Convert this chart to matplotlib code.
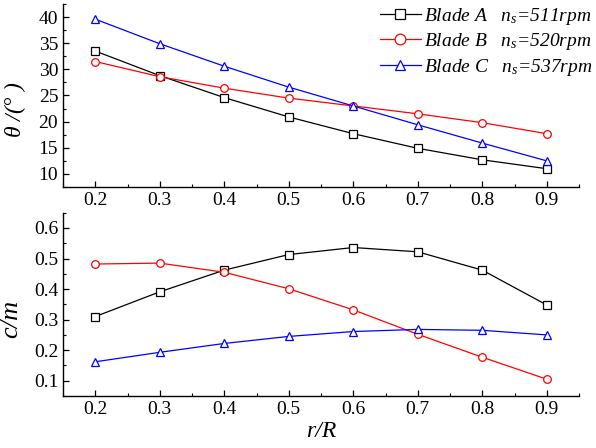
import numpy as np
import matplotlib
matplotlib.use("Agg")
import matplotlib.pyplot as plt
from matplotlib.ticker import MultipleLocator

plt.rcParams['font.family'] = ['Liberation Serif', 'DejaVu Serif']
plt.rcParams['mathtext.fontset'] = 'custom'
plt.rcParams['mathtext.it'] = 'Liberation Serif:italic'
plt.rcParams['mathtext.rm'] = 'Liberation Serif'

# radial position r/R
r_R = [0.2, 0.3, 0.4, 0.5, 0.6, 0.7, 0.8, 0.9]

# blade angle theta (deg)
theta_a = [33.5, 28.8, 24.6, 20.9, 17.7, 14.9, 12.7, 11.0]
theta_b = [31.5, 28.6, 26.4, 24.5, 23.0, 21.5, 19.8, 17.7]
theta_c = [39.6, 34.9, 30.6, 26.6, 23.0, 19.4, 15.9, 12.5]

# solidity c/m
cm_a = [0.310, 0.391, 0.462, 0.513, 0.536, 0.522, 0.462, 0.348]
cm_b = [0.482, 0.485, 0.455, 0.401, 0.332, 0.252, 0.177, 0.105]
cm_c = [0.162, 0.193, 0.222, 0.245, 0.261, 0.268, 0.265, 0.250]

labels = [r"Blade A   $n_s$=511rpm",
          r"Blade B   $n_s$=520rpm",
          r"Blade C   $n_s$=537rpm"]
colors = ['black', 'red', 'blue']
markers = ['s', 'o', '^']

fig = plt.figure(figsize=(5.96, 4.48), dpi=100)
ax1 = fig.add_axes([63/596, 1 - 187/448, 516/596, 183/448])
ax2 = fig.add_axes([63/596, 1 - 396/448, 516/596, 183.3/448])

for y, c, m, lab in zip([theta_a, theta_b, theta_c], colors, markers, labels):
    ax1.plot(r_R, y, color=c, marker=m, markersize=5.5, markerfacecolor='white',
             markeredgecolor=c, markeredgewidth=0.9, linewidth=0.9, label=lab)
for y, c, m in zip([cm_a, cm_b, cm_c], colors, markers):
    ax2.plot(r_R, y, color=c, marker=m, markersize=5.5, markerfacecolor='white',
             markeredgecolor=c, markeredgewidth=0.9, linewidth=0.9)

ax1.set_xlim(0.15, 0.95)
ax1.set_ylim(7.5, 42.5)
ax2.set_xlim(0.15, 0.95)
ax2.set_ylim(0.05, 0.65)

ax1.yaxis.set_major_locator(MultipleLocator(5))
ax1.yaxis.set_minor_locator(MultipleLocator(2.5))
ax2.yaxis.set_major_locator(MultipleLocator(0.1))
ax2.yaxis.set_minor_locator(MultipleLocator(0.05))
for ax in (ax1, ax2):
    ax.xaxis.set_major_locator(MultipleLocator(0.1))
    ax.xaxis.set_minor_locator(MultipleLocator(0.05))
    ax.spines['top'].set_visible(False)
    ax.spines['right'].set_visible(False)
    ax.spines['left'].set_linewidth(1.0)
    ax.spines['bottom'].set_linewidth(1.0)
    ax.tick_params(which='major', direction='in', length=4, width=0.9, labelsize=14)
    ax.tick_params(which='minor', direction='in', length=2, width=0.8)

ax1.xaxis.set_major_formatter(plt.FuncFormatter(lambda v, p: f"{v:.1f}"))
ax2.xaxis.set_major_formatter(plt.FuncFormatter(lambda v, p: f"{v:.1f}"))
ax2.yaxis.set_major_formatter(plt.FuncFormatter(lambda v, p: f"{v:.1f}"))

ax1.set_ylabel(r"$\theta$ /(° )", fontsize=17, style='italic')
ax1.yaxis.set_label_coords(-0.068, 0.42)
ax2.set_ylabel("c/m", fontsize=19, style='italic')
ax2.yaxis.set_label_coords(-0.079, 0.42)
ax2.set_xlabel("r/R", fontsize=17, style='italic', labelpad=2)

ax1.legend(loc='upper left', bbox_to_anchor=(380/596, 1 - 6/448),
           bbox_transform=fig.transFigure, frameon=False, borderpad=0,
           borderaxespad=0, prop={'style': 'italic', 'size': 14},
           handlelength=2.1, handletextpad=0.15, labelspacing=0.22,
           markerscale=1.4)

fig.savefig("out.png", dpi=100)
